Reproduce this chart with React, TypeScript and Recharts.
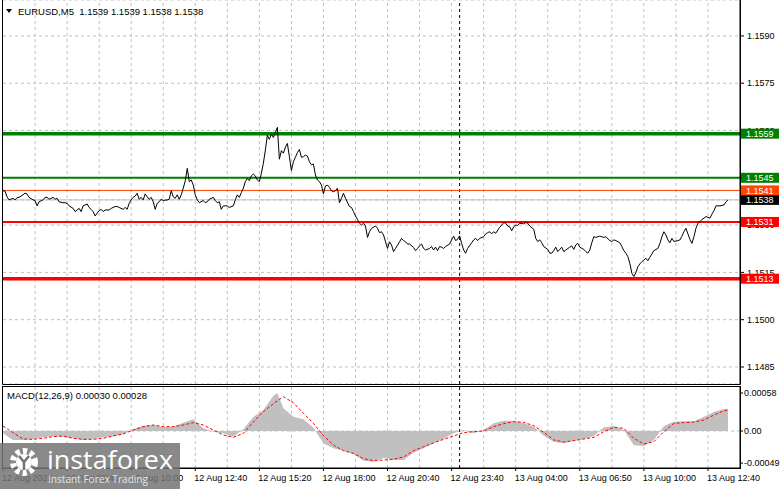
import { ComposedChart, Line, Area, XAxis, YAxis, CartesianGrid, ReferenceLine } from 'recharts';

const FONT = '"Liberation Sans", Arial, sans-serif';

// EURUSD M5 closes, [bar index, close]
const priceTrace: [number, number][] = [
  [0, 1.15409], [1, 1.15408], [2, 1.1539], [3, 1.1538], [5, 1.15385], [6, 1.1538], [7, 1.15387], [8, 1.15388],
  [10, 1.15396], [11, 1.15401], [12, 1.15399], [13, 1.15388], [15, 1.1538], [16, 1.15378], [17, 1.15361], [18, 1.15374],
  [20, 1.1538], [21, 1.15388], [22, 1.15388], [23, 1.15382], [25, 1.15388], [26, 1.15382], [27, 1.15385], [28, 1.15374],
  [30, 1.15371], [31, 1.15371], [32, 1.15369], [33, 1.15361], [35, 1.15353], [36, 1.15343], [37, 1.15348], [38, 1.15353],
  [39, 1.15343], [40, 1.15361], [42, 1.15367], [43, 1.15356], [44, 1.1535], [45, 1.15343], [46, 1.15329], [48, 1.15346],
  [49, 1.1535], [50, 1.15343], [51, 1.15348], [53, 1.15348], [54, 1.15353], [56, 1.15359], [57, 1.15359], [58, 1.15356],
  [60, 1.1535], [61, 1.15356], [62, 1.1535], [63, 1.15369], [64, 1.1538], [65, 1.15388], [66, 1.15392], [67, 1.15401],
  [68, 1.15382], [69, 1.15388], [70, 1.1538], [71, 1.15399], [72, 1.1539], [73, 1.15382], [74, 1.15388], [75, 1.15374],
  [76, 1.1535], [77, 1.15369], [78, 1.15374], [79, 1.15382], [80, 1.15378], [82, 1.1538], [83, 1.15382], [84, 1.15409],
  [85, 1.1539], [86, 1.15385], [87, 1.15396], [88, 1.15382], [89, 1.15396], [90, 1.15417], [91, 1.1544], [92, 1.1548],
  [93, 1.15438], [94, 1.15443], [95, 1.15427], [96, 1.15396], [97, 1.1538], [98, 1.15371], [100, 1.15378], [101, 1.15371],
  [102, 1.15374], [103, 1.15382], [105, 1.15388], [106, 1.15378], [107, 1.15371], [108, 1.15374], [109, 1.1535], [110, 1.15361],
  [112, 1.15361], [113, 1.15356], [115, 1.15361], [116, 1.1538], [117, 1.15396], [118, 1.15388], [119, 1.15403], [120, 1.15417],
  [121, 1.15438], [122, 1.15448], [123, 1.15441], [124, 1.15456], [125, 1.15462], [126, 1.15456], [127, 1.15443], [128, 1.15438],
  [129, 1.15464], [130, 1.15496], [131, 1.15538], [132, 1.15585], [133, 1.15572], [134, 1.15589], [135, 1.15578], [136, 1.15593],
  [137, 1.1561], [138, 1.15509], [139, 1.15536], [140, 1.15528], [141, 1.15547], [142, 1.15559], [143, 1.15517], [144, 1.15473],
  [145, 1.15501], [146, 1.15515], [147, 1.1553], [148, 1.1554], [149, 1.15515], [150, 1.15517], [151, 1.15522], [152, 1.15519],
  [153, 1.15501], [154, 1.15491], [155, 1.15494], [156, 1.15459], [157, 1.15443], [158, 1.15438], [159, 1.15427], [160, 1.15399],
  [161, 1.15424], [162, 1.15427], [163, 1.1542], [164, 1.15409], [165, 1.15406], [166, 1.15409], [167, 1.15417], [168, 1.15371],
  [169, 1.15385], [170, 1.15401], [171, 1.15385], [173, 1.15359], [174, 1.15356], [175, 1.15343], [176, 1.15329], [177, 1.15318],
  [178, 1.15306], [179, 1.153], [180, 1.15306], [181, 1.15297], [182, 1.15261], [183, 1.15279], [184, 1.1529], [186, 1.15297],
  [187, 1.1529], [188, 1.15276], [189, 1.15279], [190, 1.15269], [191, 1.15247], [192, 1.15226], [193, 1.15247], [194, 1.15237],
  [195, 1.15216], [196, 1.15226], [198, 1.15247], [199, 1.15258], [200, 1.15251], [201, 1.15247], [202, 1.1524], [203, 1.1524],
  [205, 1.15229], [206, 1.15219], [207, 1.15226], [208, 1.15234], [209, 1.1524], [210, 1.15226], [211, 1.15221], [213, 1.15226],
  [214, 1.15232], [215, 1.15221], [216, 1.1523], [217, 1.15219], [218, 1.15232], [219, 1.1523], [220, 1.15226], [221, 1.15232],
  [223, 1.1524], [224, 1.15253], [225, 1.15265], [226, 1.15251], [227, 1.15255], [228, 1.15266], [229, 1.15242], [230, 1.15221],
  [231, 1.15211], [232, 1.15226], [234, 1.15244], [235, 1.15253], [236, 1.15258], [237, 1.15251], [238, 1.15258], [240, 1.15263],
  [241, 1.15272], [242, 1.15276], [243, 1.15279], [244, 1.15272], [245, 1.15279], [246, 1.15274], [248, 1.15293], [249, 1.153],
  [250, 1.15308], [251, 1.15306], [252, 1.15297], [253, 1.15295], [254, 1.15282], [255, 1.15295], [256, 1.153], [257, 1.15299],
  [258, 1.15306], [260, 1.15304], [261, 1.15308], [262, 1.15306], [263, 1.15297], [265, 1.15287], [266, 1.15258], [267, 1.15248],
  [268, 1.15253], [269, 1.15244], [270, 1.15232], [272, 1.15223], [273, 1.15211], [274, 1.15211], [275, 1.15219], [276, 1.1523],
  [277, 1.15216], [278, 1.15223], [279, 1.1523], [280, 1.15216], [281, 1.15221], [283, 1.1523], [284, 1.15234], [285, 1.15223],
  [286, 1.15237], [287, 1.15242], [288, 1.1523], [290, 1.15223], [291, 1.15216], [292, 1.15211], [293, 1.15221], [294, 1.15244],
  [295, 1.15263], [296, 1.15261], [298, 1.15265], [299, 1.15263], [300, 1.15261], [301, 1.15263], [303, 1.15251], [304, 1.15248],
  [305, 1.15253], [306, 1.15251], [308, 1.15244], [309, 1.15232], [310, 1.15219], [311, 1.15211], [312, 1.152], [313, 1.15179],
  [314, 1.15147], [315, 1.15137], [316, 1.15149], [317, 1.15168], [318, 1.15177], [319, 1.15184], [320, 1.15189], [321, 1.15195],
  [322, 1.15187], [323, 1.15198], [324, 1.15208], [325, 1.15219], [327, 1.15226], [328, 1.15242], [329, 1.15263], [330, 1.15279],
  [331, 1.15269], [332, 1.15253], [333, 1.15244], [334, 1.15258], [335, 1.15248], [337, 1.15251], [338, 1.15253], [339, 1.15265],
  [340, 1.15279], [341, 1.1529], [342, 1.15272], [343, 1.15255], [344, 1.15242], [345, 1.15263], [346, 1.1529], [347, 1.15306],
  [348, 1.15311], [349, 1.15318], [350, 1.15322], [351, 1.15327], [353, 1.15322], [354, 1.15335], [355, 1.15346], [356, 1.15361],
  [357, 1.15361], [358, 1.15361], [360, 1.15364], [361, 1.15374], [362, 1.1538],
];

// MACD(12,26,9): [bar index, main, signal]
const macdTrace: [number, number, number][] = [
  [0, -0.000036, 0.000076], [5, -0.000137, -0.000025], [10, -0.000137, -0.000122], [15, -0.000127, -0.000127],
  [20, -0.000097, -0.000112], [25, -0.000081, -0.000086], [30, -0.000086, -0.000076], [35, -0.000107, -0.000112],
  [40, -0.000137, -0.000127], [45, -0.000122, -0.000127], [50, -0.000097, -0.000112], [55, -0.000081, -0.000076],
  [60, -0.000046, -0.000046], [65, 0.000025, 0.000015], [70, 0.000081, 0.000066], [75, 0.000092, 0.000092],
  [80, 0.000056, 0.000066], [85, 0.000066, 0.000066], [90, 0.000127, 0.000092], [95, 0.000178, 0.000127],
  [100, 0.000041, 0.000092], [105, -0.00001, 0.000015], [110, -0.000036, -0.000061], [115, -0.000086, -0.000097],
  [120, 0.000025, -0.000036], [125, 0.000214, 0.000137], [130, 0.000321, 0.000295], [135, 0.00054, 0.000417],
  [137, 0.00058, 0.00046], [140, 0.000346, 0.000524], [145, 0.000219, 0.000432], [150, 0.000178, 0.00027],
  [155, 0.000051, 0.000117], [160, -0.000188, -0.000071], [165, -0.000265, -0.000214], [170, -0.0003, -0.0003],
  [175, -0.000351, -0.000341], [180, -0.000453, -0.000422], [185, -0.000468, -0.000453], [190, -0.000412, -0.000443],
  [195, -0.000443, -0.000432], [200, -0.000443, -0.000397], [205, -0.000331, -0.0003], [210, -0.000265, -0.000239],
  [215, -0.000188, -0.000183], [220, -0.000117, -0.000127], [225, -0.000036, -0.000076], [230, 0.000015, -0.000025],
  [235, -0.000036, -0.00001], [240, 0.000015, 0], [245, 0.000117, 0.000066], [250, 0.000158, 0.000112],
  [255, 0.000158, 0.000142], [260, 0.000117, 0.000132], [265, 0.000066, 0.000081], [270, -0.000071, -0.00002],
  [275, -0.000163, -0.000137], [280, -0.000188, -0.000168], [285, -0.000148, -0.000148], [290, -0.000122, -0.000122],
  [295, -0.000076, -0.000097], [300, 0.000056, -0.00001], [305, 0.000076, 0.000056], [310, 0.000015, 0.000041],
  [315, -0.000219, -0.000112], [320, -0.000229, -0.000198], [325, -0.000137, -0.000163], [330, 0.000076, -0.00001],
  [335, 0.000142, 0.000117], [340, 0.000148, 0.000127], [345, 0.000148, 0.000137], [350, 0.000219, 0.000168],
  [355, 0.00029, 0.000244], [360, 0.000336, 0.00031], [362, 0.00034, 0.00032],
];

const timeTicks = [0, 32, 64, 96, 128, 160, 192, 224, 256, 288, 320, 352];
const timeLabels = [
  '12 Aug 2025', '12 Aug 06:40', '12 Aug 10:00', '12 Aug 12:40', '12 Aug 15:20', '12 Aug 18:00',
  '12 Aug 20:40', '12 Aug 23:40', '13 Aug 04:00', '13 Aug 06:50', '13 Aug 10:00', '13 Aug 12:40',
];
const gridBars = [16, 32, 48, 64, 80, 96, 112, 128, 144, 160, 176, 192, 208, 224, 240, 256, 272, 288, 304, 320, 336, 352];
const daySeparator = 228;

const priceTicks = [1.1485, 1.15, 1.1515, 1.153, 1.1545, 1.156, 1.1575, 1.159];
const macdTicks = [-0.00049, 0, 0.00058];

const levelValues = [1.1559, 1.1545, 1.1541, 1.1531, 1.1513];
const lastPrice = 1.1538;

// line look for each level, same order as levelValues
const LEVEL_STYLE = [
  { color: '#008000', width: 3.5 },
  { color: '#008000', width: 2 },
  { color: '#ff4500', width: 1 },
  { color: '#ff0000', width: 2 },
  { color: '#ff0000', width: 3.5 },
];

const priceData = priceTrace.map(([bar, close]) => ({ bar, close }));
const macdData = macdTrace.map(([bar, main, signal]) => ({ bar, main, signal }));

// tagged prices go last so their boxes are painted over the plain tick labels
const tagColor = new Map<number, string>([[lastPrice, '#000'], ...levelValues.map((v, i) => [v, LEVEL_STYLE[i].color] as [number, string])]);
const axisTicks = [...priceTicks.filter((t) => !tagColor.has(t)), lastPrice, ...levelValues];

function PriceTick(props: any) {
  const { x, y, payload } = props;
  const v = payload.value as number;
  const color = tagColor.get(v);
  if (color) {
    return (
      <g>
        <rect x={x - 6} y={y - 5} width={38} height={10} fill={color} />
        <text x={x - 1} y={y} dy="0.355em" fill="#fff" fontSize={9} fontFamily={FONT}>
          {v.toFixed(4)}
        </text>
      </g>
    );
  }
  return (
    <text x={x} y={y} dy="0.355em" fill="#000" fontSize={9} fontFamily={FONT}>
      {v.toFixed(4)}
    </text>
  );
}

function TimeTick(props: any) {
  const { x, y, payload } = props;
  const label = timeLabels[timeTicks.indexOf(payload.value)];
  return (
    <text x={x - 1} y={y} dy="0.71em" textAnchor="start" fill="#000" fontSize={9} fontFamily={FONT}>
      {label}
    </text>
  );
}

export default function App() {
  return (
    <div style={{ position: 'relative', width: 781, height: 489, background: '#fff', fontFamily: FONT, overflow: 'hidden' }}>
      <style>{'body{margin:0}'}</style>

      <div style={{ position: 'absolute', left: 0, top: 0 }}>
        <ComposedChart width={781} height={385} data={priceData} margin={{ top: 0, right: 0, bottom: 1, left: 3 }}>
          <XAxis type="number" dataKey="bar" domain={[0, 368]} hide allowDataOverflow />
          <YAxis
            orientation="right"
            width={41}
            domain={[1.14796, 1.16014]}
            ticks={axisTicks}
            interval={0}
            allowDataOverflow
            tick={<PriceTick />}
            tickSize={4}
            tickMargin={3}
            axisLine={{ stroke: '#000' }}
            tickLine={{ stroke: '#000' }}
          />
          <CartesianGrid vertical={false} stroke="#c0c0c0" strokeDasharray="3 3" />
          {gridBars.map((b) => (
            <ReferenceLine key={`g-${b}`} x={b} stroke="#c0c0c0" strokeDasharray="3 3" />
          ))}
          <ReferenceLine x={daySeparator} stroke="#000" strokeDasharray="3 3" />
          <ReferenceLine y={lastPrice} stroke="#c0c0c0" />
          {levelValues.map((v, i) => (
            <ReferenceLine key={`lvl-${v}`} y={v} stroke={LEVEL_STYLE[i].color} strokeWidth={LEVEL_STYLE[i].width} />
          ))}
          <Line
            type="linear"
            dataKey="close"
            stroke="#000"
            strokeWidth={1}
            dot={false}
            activeDot={false}
            isAnimationActive={false}
          />
        </ComposedChart>
      </div>

      <div style={{ position: 'absolute', left: 0, top: 386 }}>
        <ComposedChart width={781} height={103} data={macdData} margin={{ top: 1, right: 0, bottom: 0, left: 3 }}>
          <XAxis
            type="number"
            dataKey="bar"
            domain={[0, 368]}
            ticks={timeTicks}
            interval={0}
            allowDataOverflow
            height={21}
            tick={<TimeTick />}
            tickSize={3}
            tickMargin={4}
            axisLine={{ stroke: '#000' }}
            tickLine={{ stroke: '#000' }}
          />
          <YAxis
            orientation="right"
            width={41}
            domain={[-0.000565, 0.000672]}
            ticks={macdTicks}
            interval={0}
            allowDataOverflow
            tickFormatter={(v: number) => (v === 0 ? '0.00' : v.toFixed(5))}
            tick={{ fontSize: 9, fill: '#000', fontFamily: FONT }}
            tickSize={3}
            tickMargin={1}
            axisLine={{ stroke: '#000' }}
            tickLine={{ stroke: '#000' }}
          />
          {gridBars.map((b) => (
            <ReferenceLine key={`mg-${b}`} x={b} stroke="#c0c0c0" strokeDasharray="3 3" />
          ))}
          <ReferenceLine y={0} stroke="#c0c0c0" strokeDasharray="3 3" />
          <Area
            type="linear"
            dataKey="main"
            baseValue={0}
            fill="#c0c0c0"
            fillOpacity={1}
            stroke="none"
            activeDot={false}
            isAnimationActive={false}
          />
          <ReferenceLine x={daySeparator} stroke="#000" strokeDasharray="3 3" />
          <Line
            type="linear"
            dataKey="signal"
            stroke="#ff0000"
            strokeWidth={1}
            strokeDasharray="3 2"
            dot={false}
            activeDot={false}
            isAnimationActive={false}
          />
        </ComposedChart>
      </div>

      {/* frames, captions and the watermark on top */}
      <svg width={781} height={489} style={{ position: 'absolute', left: 0, top: 0, pointerEvents: 'none' }}>
        <path d="M2.5 0 V384.5 H740.5 V0" fill="none" stroke="#000" />
        <rect x={2.5} y={386.5} width={738} height={82} fill="none" stroke="#000" />
        <polygon points="6,9 12,9 9,13" fill="#000" />
        <text x={18} y={15} fontSize={9.5} fill="#000" fontFamily={FONT} style={{ whiteSpace: 'pre' }}>
          {'EURUSD,M5  1.1539 1.1539 1.1538 1.1538'}
        </text>
        <text x={7} y={399} fontSize={9.5} fill="#000" fontFamily={FONT}>
          MACD(12,26,9) 0.00030 0.00028
        </text>
        <g>
          <rect x={0} y={443} width={180} height={46} fill="#747474" fillOpacity={0.85} />
          <circle cx={24} cy={462} r={11} fill="none" stroke="#fff" strokeWidth={6} strokeDasharray="4.2 3" />
          <circle cx={24} cy={462} r={8} fill="#fff" />
          <path d="M19 456 L24 462 L29 456 M24 462 V470" stroke="#747474" strokeWidth={2.5} fill="none" />
          <text x={47} y={469} fontSize={26} fill="#fff" fontFamily='"Open Sans", sans-serif' textLength={126} lengthAdjust="spacingAndGlyphs">
            instaforex
          </text>
          <text x={48} y={483} fontSize={11} fill="#e6e6e6" fontFamily='"Open Sans", sans-serif' textLength={100} lengthAdjust="spacingAndGlyphs">
            Instant Forex Trading
          </text>
        </g>
      </svg>
    </div>
  );
}
